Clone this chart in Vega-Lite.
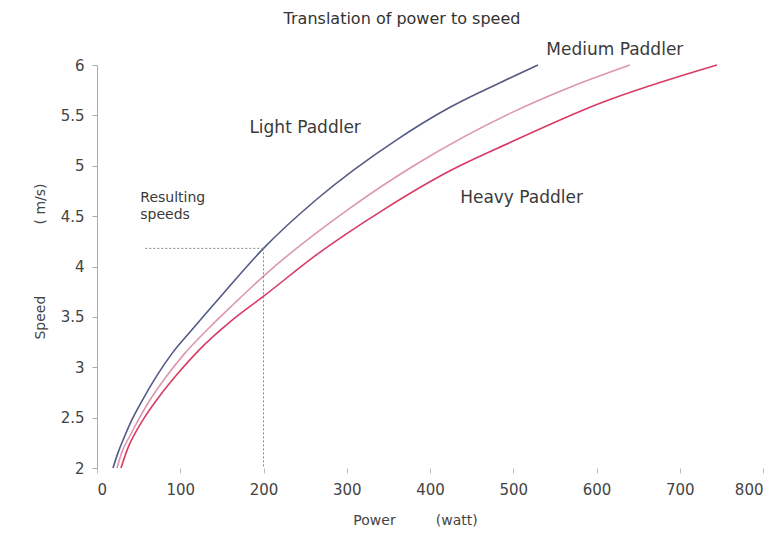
{
  "$schema": "https://vega.github.io/schema/vega-lite/v6.json",
  "width": 666,
  "height": 403,
  "autosize": {"type": "none"},
  "padding": {"left": 97, "top": 65, "right": 11, "bottom": 65},
  "background": "white",
  "config": {
    "view": {"stroke": null},
    "font": "DejaVu Sans"
  },
  "title": {
    "text": "Translation of power to speed",
    "font": "DejaVu Sans",
    "fontSize": 16,
    "fontWeight": "normal",
    "color": "#333333",
    "anchor": "middle",
    "frame": "group",
    "dx": -28,
    "offset": 14
  },
  "datasets": {
    "curves": [
      {"paddler": "Light", "power": 19.2, "speed": 2.0},
      {"paddler": "Light", "power": 25.2, "speed": 2.15},
      {"paddler": "Light", "power": 32.4, "speed": 2.3},
      {"paddler": "Light", "power": 42.0, "speed": 2.48},
      {"paddler": "Light", "power": 52.9, "speed": 2.65},
      {"paddler": "Light", "power": 72.1, "speed": 2.92},
      {"paddler": "Light", "power": 91.3, "speed": 3.15},
      {"paddler": "Light", "power": 111.7, "speed": 3.35},
      {"paddler": "Light", "power": 151.4, "speed": 3.73},
      {"paddler": "Light", "power": 200, "speed": 4.18},
      {"paddler": "Light", "power": 264.3, "speed": 4.67},
      {"paddler": "Light", "power": 360.4, "speed": 5.26},
      {"paddler": "Light", "power": 424.0, "speed": 5.58},
      {"paddler": "Light", "power": 496.1, "speed": 5.87},
      {"paddler": "Light", "power": 529.7, "speed": 6.0},
      {"paddler": "Medium", "power": 24.0, "speed": 2.0},
      {"paddler": "Medium", "power": 30.0, "speed": 2.16},
      {"paddler": "Medium", "power": 39.6, "speed": 2.32},
      {"paddler": "Medium", "power": 49.2, "speed": 2.47},
      {"paddler": "Medium", "power": 62.5, "speed": 2.66},
      {"paddler": "Medium", "power": 81.7, "speed": 2.89},
      {"paddler": "Medium", "power": 105.7, "speed": 3.14},
      {"paddler": "Medium", "power": 132.1, "speed": 3.37},
      {"paddler": "Medium", "power": 165.8, "speed": 3.64},
      {"paddler": "Medium", "power": 199.4, "speed": 3.9},
      {"paddler": "Medium", "power": 303.9, "speed": 4.58},
      {"paddler": "Medium", "power": 384.4, "speed": 5.02},
      {"paddler": "Medium", "power": 496.1, "speed": 5.52},
      {"paddler": "Medium", "power": 568.2, "speed": 5.78},
      {"paddler": "Medium", "power": 640.2, "speed": 6.0},
      {"paddler": "Heavy", "power": 28.8, "speed": 2.0},
      {"paddler": "Heavy", "power": 37.2, "speed": 2.2},
      {"paddler": "Heavy", "power": 46.8, "speed": 2.36},
      {"paddler": "Heavy", "power": 57.7, "speed": 2.51},
      {"paddler": "Heavy", "power": 75.7, "speed": 2.72},
      {"paddler": "Heavy", "power": 97.3, "speed": 2.94},
      {"paddler": "Heavy", "power": 123.7, "speed": 3.18},
      {"paddler": "Heavy", "power": 159.8, "speed": 3.45},
      {"paddler": "Heavy", "power": 199.4, "speed": 3.7},
      {"paddler": "Heavy", "power": 264.3, "speed": 4.12},
      {"paddler": "Heavy", "power": 343.5, "speed": 4.56},
      {"paddler": "Heavy", "power": 424.0, "speed": 4.95},
      {"paddler": "Heavy", "power": 496.1, "speed": 5.23},
      {"paddler": "Heavy", "power": 604.2, "speed": 5.62},
      {"paddler": "Heavy", "power": 744.7, "speed": 6.0}
    ],
    "guides": [
      {"power": 58, "power2": 200, "speed": 4.18, "speed2": 4.18},
      {"power": 200, "power2": 200, "speed": 4.18, "speed2": 2.0}
    ],
    "labels": [
      {"label": "Light Paddler", "power": 250, "speed": 5.37, "kind": "curve"},
      {"label": "Medium Paddler", "power": 622, "speed": 6.15, "kind": "curve"},
      {"label": "Heavy Paddler", "power": 510, "speed": 4.68, "kind": "curve"},
      {"label": "Resulting", "power": 52, "speed": 4.68, "kind": "note"},
      {"label": "speeds", "power": 52, "speed": 4.51, "kind": "note"}
    ]
  },
  "encoding": {
    "x": {
      "field": "power",
      "type": "quantitative",
      "scale": {"domain": [0, 800], "nice": false, "zero": false},
      "axis": {
        "title": "Power\u00a0\u00a0\u00a0\u00a0\u00a0\u00a0\u00a0\u00a0\u00a0(watt)",
        "values": [0, 100, 200, 300, 400, 500, 600, 700, 800],
        "format": "d",
        "domain": false,
        "grid": false,
        "ticks": true,
        "tickSize": 5,
        "tickColor": "#bbbbbb",
        "labelPadding": 9,
        "labelFont": "DejaVu Sans",
        "labelFontSize": 15,
        "labelColor": "#444444",
        "titleFont": "DejaVu Sans",
        "titleFontSize": 14,
        "titleFontWeight": "normal",
        "titleColor": "#444444",
        "titleX": 318,
        "titleY": 52,
        "titleAlign": "center",
        "titleBaseline": "middle",
        "titleAnchor": null
      }
    },
    "y": {
      "field": "speed",
      "type": "quantitative",
      "scale": {"domain": [2, 6], "nice": false, "zero": false},
      "axis": {
        "title": "Speed\u00a0\u00a0\u00a0\u00a0\u00a0\u00a0\u00a0\u00a0\u00a0\u00a0\u00a0\u00a0\u00a0\u00a0\u00a0\u00a0( m/s)",
        "values": [2, 2.5, 3, 3.5, 4, 4.5, 5, 5.5, 6],
        "format": ".1~f",
        "domain": true,
        "domainColor": "#aaaaaa",
        "grid": false,
        "tickSize": 5,
        "tickColor": "#aaaaaa",
        "labelPadding": 8,
        "labelFont": "DejaVu Sans",
        "labelFontSize": 15,
        "labelColor": "#444444",
        "titleFont": "DejaVu Sans",
        "titleFontSize": 14,
        "titleFontWeight": "normal",
        "titleColor": "#444444",
        "titleX": -57,
        "titleY": 196,
        "titleAngle": -90,
        "titleAlign": "center",
        "titleBaseline": "middle"
      }
    }
  },
  "layer": [
    {
      "data": {"name": "curves"},
      "mark": {"type": "line", "strokeWidth": 1.6, "interpolate": "monotone"},
      "encoding": {
        "color": {
          "field": "paddler",
          "type": "nominal",
          "scale": {"domain": ["Light", "Medium", "Heavy"], "range": ["#535a85", "#dc97ae", "#d83a62"]},
          "legend": null
        }
      }
    },
    {
      "data": {"name": "guides"},
      "mark": {"type": "rule", "strokeDash": [2, 2], "color": "#888888", "strokeWidth": 1},
      "encoding": {
        "x2": {"field": "power2"},
        "y2": {"field": "speed2"}
      }
    },
    {
      "data": {"name": "labels"},
      "transform": [{"filter": "datum.kind === 'curve'"}],
      "mark": {"type": "text", "font": "DejaVu Sans", "fontSize": 17, "color": "#3a3a3a", "baseline": "middle", "align": "center"},
      "encoding": {
        "text": {"field": "label"}
      }
    },
    {
      "data": {"name": "labels"},
      "transform": [{"filter": "datum.kind === 'note'"}],
      "mark": {"type": "text", "font": "DejaVu Sans", "fontSize": 14, "color": "#3a3a3a", "baseline": "middle", "align": "left"},
      "encoding": {
        "text": {"field": "label"}
      }
    }
  ]
}
